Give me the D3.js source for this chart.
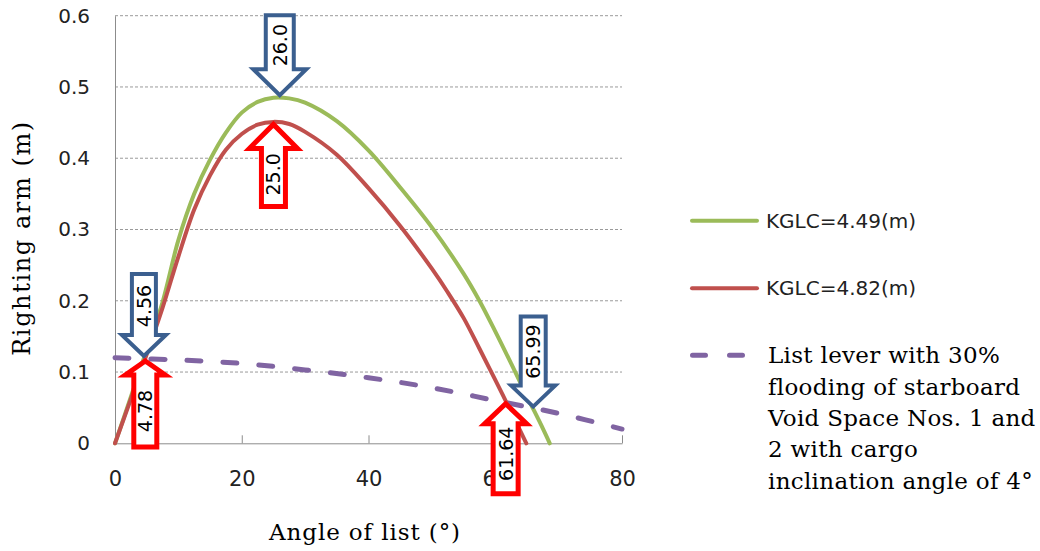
<!DOCTYPE html>
<html>
<head>
<meta charset="utf-8">
<script src="https://cdn.jsdelivr.net/npm/d3@7"></script>
<style>
  html, body { margin: 0; padding: 0; background: #fff; }
  svg { display: block; }
</style>
</head>
<body>
<svg id="chart" width="1040" height="551"></svg>
<script>
// Righting arm curves (angle of list in degrees, righting arm in metres)
const kglc449Angles = [0, 2.5, 5, 7.5, 10, 12.5, 15, 17.5, 20, 22.5, 25, 27.5, 30, 35, 40, 45, 50, 55, 57.5, 60, 62.5, 65, 67.5, 68.6];
const kglc449Arms   = [0, 0.065, 0.131, 0.198, 0.285, 0.35, 0.398, 0.436, 0.464, 0.479, 0.485, 0.484, 0.478, 0.452, 0.411, 0.359, 0.303, 0.238, 0.20, 0.157, 0.112, 0.066, 0.021, 0];

const kglc482Angles = [0, 2.5, 5, 7.5, 10, 12.5, 15, 17.5, 20, 22.5, 25, 27.5, 30, 35, 40, 45, 50, 52.5, 55, 57.5, 60, 62.5, 64.9];
const kglc482Arms   = [0, 0.062, 0.125, 0.19, 0.262, 0.328, 0.376, 0.412, 0.434, 0.447, 0.451, 0.448, 0.437, 0.405, 0.358, 0.305, 0.245, 0.212, 0.176, 0.133, 0.089, 0.044, 0];

// List lever with 30% flooding of starboard void spaces
const listLeverAngles = [0, 10, 20, 30, 40, 50, 60, 70, 80];
const listLeverArms   = [0.12, 0.117, 0.112, 0.103, 0.092, 0.078, 0.06, 0.042, 0.02];

// Marked angles (peaks and intersections)
const markerAngles = [26.0, 25.0, 4.56, 4.78, 65.99, 61.64];
const markerArms   = [0.485, 0.451, 0.119, 0.119, 0.048, 0.059];
const markerLabels = ["26.0", "25.0", "4.56", "4.78", "65.99", "61.64"];
const markerSeries = ["KGLC=4.49(m)", "KGLC=4.82(m)", "KGLC=4.49(m)", "KGLC=4.82(m)", "KGLC=4.49(m)", "KGLC=4.82(m)"];

const angleTicks = [0, 20, 40, 60, 80];
const armTicks = [0, 0.1, 0.2, 0.3, 0.4, 0.5, 0.6];

const seriesNames = ["KGLC=4.49(m)", "KGLC=4.82(m)"];
const leverLegendLines = [
  "List lever with 30%",
  "flooding of starboard",
  "Void Space Nos. 1 and",
  "2 with cargo",
  "inclination angle of 4\u00B0"
];

// ---- layout ----
const plot = { left: 115, right: 622, top: 15.7, bottom: 443.3 };
const colors = { green: "#9bbb59", red: "#c0504d", purple: "#8064a2", blueArrow: "#3b5f8f", redArrow: "#ff0000" };
// arrow outline sizes: total length, shaft width, head width, head length
const arrowSizes = [
  { len: 80, shaft: 28, head: 53, headLen: 26 },
  { len: 82, shaft: 24, head: 48, headLen: 24 },
  { len: 82, shaft: 24, head: 44, headLen: 21 },
  { len: 86, shaft: 23, head: 40, headLen: 14 },
  { len: 90, shaft: 25, head: 44, headLen: 21 },
  { len: 90, shaft: 25, head: 42, headLen: 20 }
];

const svg = d3.select("#chart");

const x = d3.scaleLinear().domain([0, 80]).range([plot.left, plot.right]);
const y = d3.scaleLinear().domain([0, 0.6]).range([plot.bottom, plot.top]);

// gridlines
svg.append("g")
  .selectAll("line")
  .data(armTicks.filter(d => d > 0))
  .join("line")
  .attr("x1", plot.left).attr("x2", plot.right)
  .attr("y1", d => y(d)).attr("y2", d => y(d))
  .attr("stroke", "#9a9a9a")
  .attr("stroke-width", 1)
  .attr("stroke-dasharray", "3,2");

// y axis
const yAxis = d3.axisLeft(y).tickValues(armTicks).tickSize(0).tickPadding(25)
  .tickFormat(d => d === 0 ? "0" : d3.format(".1f")(d));
const gy = svg.append("g").attr("transform", `translate(${plot.left},0)`).call(yAxis);
gy.select(".domain").attr("stroke", "#8c8c8c");
gy.selectAll("text")
  .attr("font-family", "DejaVu Sans")
  .attr("font-size", 20)
  .attr("fill", "#222");

// x axis with inward ticks
const xAxis = d3.axisBottom(x).tickValues(angleTicks).tickSize(-8).tickSizeOuter(0).tickPadding(0);
const gx = svg.append("g").attr("transform", `translate(0,${plot.bottom})`).call(xAxis);
gx.select(".domain").attr("stroke", "#8c8c8c");
gx.selectAll(".tick line").attr("stroke", "#8c8c8c");
gx.selectAll(".tick text")
  .attr("y", 43)
  .attr("dy", 0)
  .attr("font-family", "DejaVu Sans")
  .attr("font-size", 21)
  .attr("fill", "#222");
gx.selectAll(".tick").filter(d => d === 0).select("line").remove();

// axis titles
svg.append("text")
  .attr("x", 365).attr("y", 540)
  .attr("text-anchor", "middle")
  .attr("font-family", "DejaVu Serif")
  .attr("font-size", 23)
  .attr("letter-spacing", 0.9)
  .attr("fill", "#000")
  .text("Angle of list (\u00B0)");

svg.append("text")
  .attr("transform", "translate(30,238) rotate(-90)")
  .attr("text-anchor", "middle")
  .attr("font-family", "DejaVu Serif")
  .attr("font-size", 24)
  .attr("letter-spacing", 1.6)
  .attr("fill", "#000")
  .text("Righting arm (m)");

// curves
const line = d3.line().x(d => x(d[0])).y(d => y(d[1])).curve(d3.curveCatmullRom.alpha(0.5));
const zip = (a, b) => a.map((v, i) => [v, b[i]]);

svg.append("path")
  .datum(zip(listLeverAngles, listLeverArms))
  .attr("d", line)
  .attr("fill", "none")
  .attr("stroke", colors.purple)
  .attr("stroke-width", 5)
  .attr("stroke-linecap", "round")
  .attr("stroke-dasharray", "14,22");

svg.append("path")
  .datum(zip(kglc449Angles, kglc449Arms))
  .attr("d", line)
  .attr("fill", "none")
  .attr("stroke", colors.green)
  .attr("stroke-width", 4)
  .attr("stroke-linecap", "round");

svg.append("path")
  .datum(zip(kglc482Angles, kglc482Arms))
  .attr("d", line)
  .attr("fill", "none")
  .attr("stroke", colors.red)
  .attr("stroke-width", 4)
  .attr("stroke-linecap", "round");

// block arrows marking the angles
markerAngles.forEach((a, i) => {
  const down = markerSeries[i] === seriesNames[0];
  const s = arrowSizes[i];
  const sw = down ? 4 : 5;
  const dir = down ? -1 : 1;          // tail direction relative to the tip
  const tipX = x(a);
  const tipY = y(markerArms[i]) + dir * 2.5;
  const pts = [
    [-s.shaft / 2, dir * s.len],
    [s.shaft / 2, dir * s.len],
    [s.shaft / 2, dir * s.headLen],
    [s.head / 2, dir * s.headLen],
    [0, 0],
    [-s.head / 2, dir * s.headLen],
    [-s.shaft / 2, dir * s.headLen]
  ];
  const g = svg.append("g").attr("transform", `translate(${tipX},${tipY})`);
  g.append("path")
    .attr("d", "M" + pts.map(p => p.join(",")).join("L") + "Z")
    .attr("fill", "#fff")
    .attr("stroke", down ? colors.blueArrow : colors.redArrow)
    .attr("stroke-width", sw)
    .attr("stroke-linejoin", "miter");
  const textOffset = i === 4 ? 55 : 50;
  g.append("text")
    .attr("transform", `translate(0,${dir * textOffset}) rotate(-90)`)
    .attr("text-anchor", "middle")
    .attr("dominant-baseline", "central")
    .attr("font-family", "DejaVu Sans")
    .attr("font-size", 19)
    .attr("fill", "#000")
    .text(markerLabels[i]);
});

// legend
const legend = svg.append("g");
[[seriesNames[0], colors.green, 220.7], [seriesNames[1], colors.red, 288.3]].forEach(([name, c, ly]) => {
  legend.append("line")
    .attr("x1", 692).attr("x2", 757).attr("y1", ly).attr("y2", ly)
    .attr("stroke", c).attr("stroke-width", 4).attr("stroke-linecap", "round");
  legend.append("text")
    .attr("x", 766).attr("y", ly)
    .attr("dominant-baseline", "central")
    .attr("font-family", "DejaVu Sans")
    .attr("font-size", 20)
    .attr("fill", "#222")
    .text(name);
});
legend.append("line")
  .attr("x1", 692.5).attr("x2", 742.5).attr("y1", 355.3).attr("y2", 355.3)
  .attr("stroke", colors.purple).attr("stroke-width", 5)
  .attr("stroke-linecap", "round").attr("stroke-dasharray", "13,24");
legend.append("text")
  .attr("font-family", "DejaVu Serif")
  .attr("font-size", 23)
  .attr("letter-spacing", 0.3)
  .attr("fill", "#000")
  .selectAll("tspan")
  .data(leverLegendLines)
  .join("tspan")
  .attr("x", 768)
  .attr("y", (d, i) => 363.3 + i * 31.3)
  .text(d => d);
</script>
</body>
</html>
